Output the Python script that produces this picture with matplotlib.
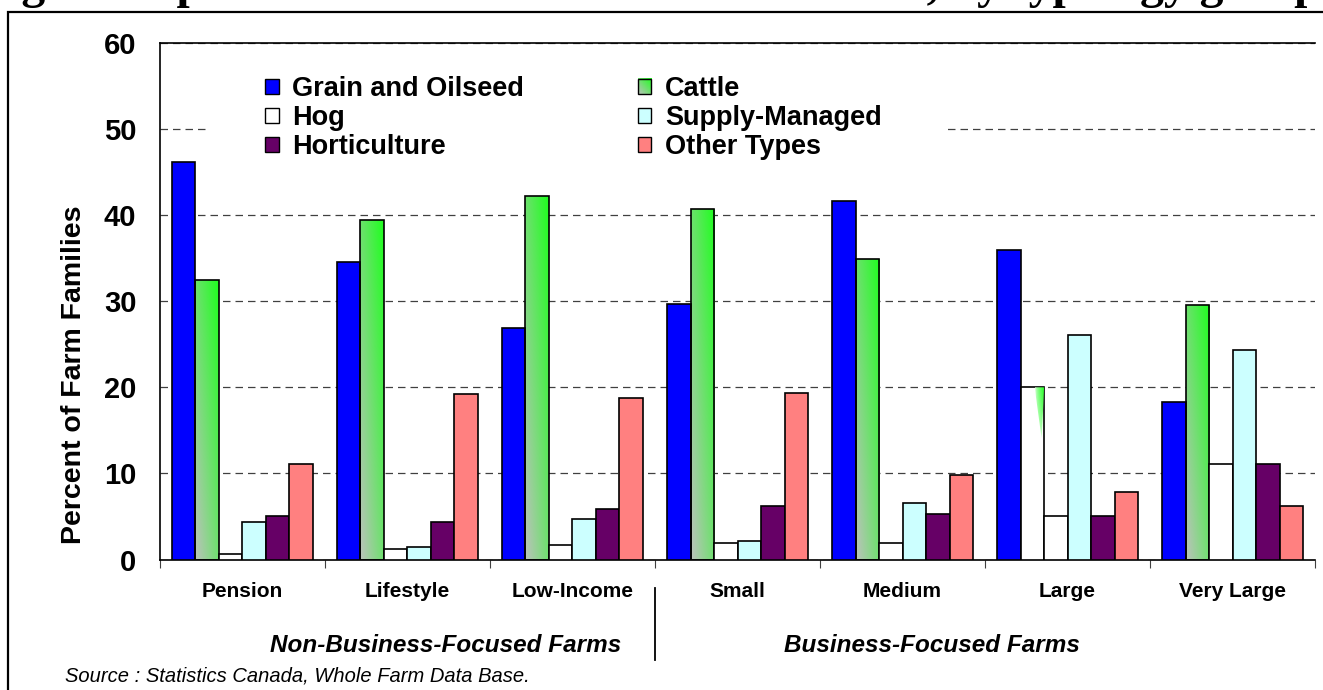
import matplotlib
matplotlib.use("Agg")
import matplotlib.pyplot as plt
import numpy as np
from matplotlib.patches import Patch, Rectangle, Polygon
from matplotlib.lines import Line2D
from matplotlib.legend_handler import HandlerBase
from matplotlib.image import BboxImage
from matplotlib.transforms import Bbox, TransformedBbox
import matplotlib.transforms as mtransforms

plt.rcParams['font.family'] = ['Liberation Sans', 'DejaVu Sans']

# Données (% des familles agricoles)
categories = ['Pension', 'Lifestyle', 'Low-Income', 'Small', 'Medium', 'Large', 'Very Large']
grain = [46.2, 34.6, 26.9, 29.7, 41.7, 36.0, 18.3]
cattle = [32.5, 39.4, 42.2, 40.7, 34.9, 20.0, 29.6]
hog = [0.6, 1.2, 1.7, 1.9, 1.9, 5.1, 11.1]
supply = [4.4, 1.5, 4.7, 2.1, 6.6, 26.1, 24.3]
hort = [5.1, 4.4, 5.9, 6.2, 5.3, 5.1, 11.1]
other = [11.1, 19.2, 18.8, 19.4, 9.8, 7.9, 6.2]

series_names = ['Grain and Oilseed', 'Cattle', 'Hog', 'Supply-Managed', 'Horticulture', 'Other Types']
series_colors = ['#0000ff', None, '#ffffff', '#ccffff', '#660066', '#ff8080']
groups = ['Non-Business-Focused Farms', 'Business-Focused Farms']
source = 'Source : Statistics Canada, Whole Farm Data Base.'
title = 'Figure 5: percent of farm families in each class, by typology group'

W, H = 1323, 690
fig = plt.figure(figsize=(W / 100, H / 100), dpi=100)
ax = fig.add_axes([0.1209, 0.1891, 0.8731, 0.7486])

x = np.arange(len(categories)) + 0.5
w = 0.1424
series = [grain, cattle, hog, supply, hort, other]

# dégradé diagonal gris -> vert pour la série Cattle
n = 80
xx, yy = np.meshgrid(np.linspace(0, 1, n), np.linspace(0, 1, n))
t = np.clip(0.5 * xx + 0.5 * yy, 0, 1)[..., None]
c0 = np.array([0.74, 0.76, 0.74])
c1 = np.array([0.12, 1.00, 0.12])
grad = (1 - t) * c0 + t * c1

# petit dégradé blanc -> vert pour l'éclat de la barre "Large"
t2 = np.sqrt(xx * yy)[..., None]
grad2 = (1 - t2) * np.array([1.0, 1.0, 1.0]) + t2 * c1


class HandlerGradient(HandlerBase):
    def create_artists(self, legend, orig_handle, xdescent, ydescent, width, height, fontsize, trans):
        bb = TransformedBbox(Bbox.from_bounds(-xdescent, -ydescent, width, height), trans)
        img = BboxImage(bb, origin='lower', interpolation='bilinear')
        img.set_data(grad)
        rect = Rectangle((-xdescent, -ydescent), width, height, facecolor='none',
                         edgecolor='black', linewidth=1.0, transform=trans)
        return [img, rect]


for k, vals in enumerate(series):
    pos = x + (k - 2.5) * w
    if k == 1:
        bars = ax.bar(pos, vals, w, facecolor='none', edgecolor='black', linewidth=1.2, zorder=3)
        for cat, b in zip(categories, bars):
            x0, h = b.get_x(), b.get_height()
            if cat == 'Large':
                # barre mal rendue dans l'original : blanche avec un éclat vert
                b.set_facecolor('white')
                tri = Polygon([[x0 + 0.6 * w, h], [x0 + w, h], [x0 + 0.9 * w, 0.7 * h]],
                              closed=True, transform=ax.transData)
                im = ax.imshow(grad2, extent=(x0 + 0.6 * w, x0 + w, 0.7 * h, h), origin='lower',
                               aspect='auto', zorder=3.5)
                im.set_clip_path(tri)
            else:
                ax.imshow(grad, extent=(x0, x0 + w, 0, h), origin='lower', aspect='auto', zorder=2)
    else:
        ax.bar(pos, vals, w, color=series_colors[k], edgecolor='black', linewidth=1.2, zorder=3)

ax.set_xlim(0, len(categories))
ax.set_ylim(0, 60)
ax.set_yticks(np.arange(0, 61, 10))
ax.yaxis.grid(True, linestyle=(0, (6, 4)), color='#404040', linewidth=0.9)
ax.set_axisbelow(True)
ax.tick_params(axis='y', length=0, pad=17, labelsize=21)
for lab in ax.get_yticklabels():
    lab.set_fontweight('bold')

ax.set_xticks(np.arange(len(categories) + 1))
ax.set_xticklabels([])
ax.tick_params(axis='x', which='major', length=6, direction='out', color='#404040')
ax.set_xticks(x, minor=True)
ax.set_xticklabels(categories, minor=True, fontsize=15, fontweight='bold')
ax.tick_params(axis='x', which='minor', length=0, pad=16)

for s in ['left', 'bottom', 'top']:
    ax.spines[s].set_linewidth(1.2)
ax.spines['right'].set_visible(False)

fig.text(74 / W, 1 - 375 / H, 'Percent of Farm Families', rotation=90, ha='center', va='center',
         fontsize=20.5, fontweight='bold')

# fond blanc de la légende (cache la grille à 50)
ax.add_patch(Rectangle((210 / W, 1 - 163 / H), 738 / W, 98 / H, transform=fig.transFigure,
                       facecolor='white', edgecolor='none', zorder=1))

handles = []
for k in [0, 2, 4, 1, 3, 5]:
    fc = series_colors[k] if k != 1 else '#55dd55'
    handles.append(Patch(facecolor=fc, edgecolor='black', linewidth=1.0, label=series_names[k]))
leg = fig.legend(handles=handles, ncol=2, loc='upper left', bbox_to_anchor=(265 / W, 1 - 76 / H),
                 fontsize=19.5, frameon=False, handlelength=0.5, handleheight=0.5,
                 handletextpad=0.5, labelspacing=0.11, columnspacing=4.2, borderpad=0,
                 borderaxespad=0, handler_map={handles[3]: HandlerGradient()})
for txt in leg.get_texts():
    txt.set_fontweight('bold')

# étiquettes de groupes et séparateur
trans = mtransforms.blended_transform_factory(ax.transData, fig.transFigure)
fig.text(1.73, 1 - 645 / H, groups[0], transform=trans, ha='center', va='center',
         fontsize=17.5, fontweight='bold', fontstyle='italic')
fig.text(4.68, 1 - 645 / H, groups[1], transform=trans, ha='center', va='center',
         fontsize=17.5, fontweight='bold', fontstyle='italic')
fig.add_artist(Line2D([3.0, 3.0], [1 - 588 / H, 1 - 660 / H], transform=trans, color='black', linewidth=1.3))

fig.text(65 / W, 1 - 676 / H, source, ha='left', va='center', fontsize=14.5, fontstyle='italic')

# cadre extérieur et titre coupé en haut
fig.add_artist(Rectangle((8 / W, -0.1), 1.2, 1.1 - 12 / H, transform=fig.transFigure,
                         fill=False, edgecolor='black', linewidth=1.6))
title_font = dict(fontweight='bold', family=['Liberation Serif', 'DejaVu Serif'])
r = fig.canvas.get_renderer()
probe = fig.text(0, 0, title, fontsize=33, **title_font)
tw = probe.get_window_extent(r).width
probe.remove()
# taille choisie pour que le titre finisse au bord droit, comme dans l'original
fig.text(-21 / W, 1 + 2 / H, title, ha='left', va='baseline',
         fontsize=33 * (W + 2 + 21) / tw, **title_font)

fig.savefig('out.png', dpi=100)
